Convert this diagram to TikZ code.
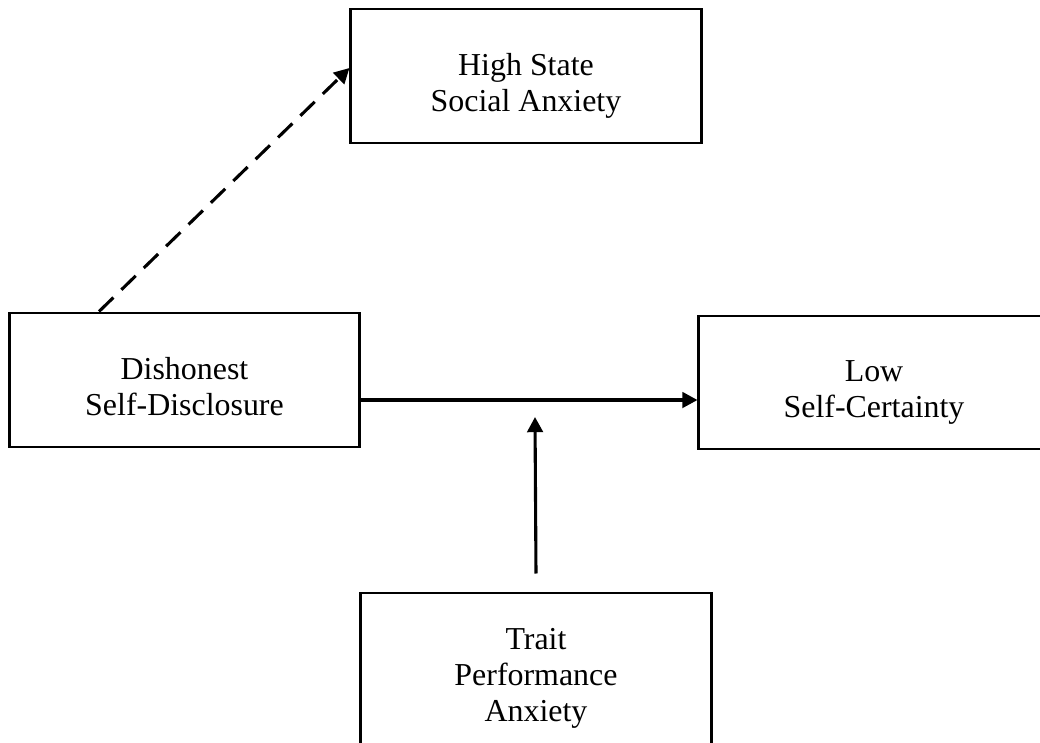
\documentclass[tikz,border=0pt]{standalone}
\usepackage{fontspec}
\setmainfont{Liberation Serif}
\usetikzlibrary{arrows.meta}
\tikzset{
    box/.style = {draw, line width = 2.1pt, align = center,
        minimum width = 8.75cm, minimum height = 3.35cm,
        font = \fontsize{22.7}{25.6}\selectfont,
        execute at begin node = \rule{0pt}{55.6pt},
        execute at end node = \rule[-5.8pt]{0pt}{5.8pt}},
    path arrow/.style = {line width = 2.2pt,
        -{Triangle[length = 3.8mm, width = 3.9mm]}}
}
\begin{document}
\begin{tikzpicture}[x = 0.025cm, y = -0.025cm]
        \useasboundingbox (0, 0) rectangle (1040, 743);
        \draw
            (526, 76)    node (high)  [box, execute at begin node = \rule{0pt}{48.5pt}] {High State\\Social Anxiety}
            (184.5, 380) node (dis)   [box] {Dishonest\\Self-Disclosure}
            (874, 382.5) node (low)   [box, minimum height = 3.325cm] {Low\\Self-Certainty}
            (536, 679)   node (trait) [box, minimum height = 4.3cm] {Trait\\Performance\\Anxiety};
        \coordinate (mod) at (535, 417);

        \draw[path arrow, dash pattern = on 0.5cm off 0.28cm]
            ([xshift = 2.275cm]dis.north west) -- ([yshift = 0.2cm]high.west);
        \draw[path arrow] ([yshift = -0.5cm]dis.east) -- ([yshift = -0.5cm]dis.east -| low.west);
        \draw[path arrow] ([yshift = 0.45cm]trait.north) -- (mod);
    \end{tikzpicture}
\end{document}
